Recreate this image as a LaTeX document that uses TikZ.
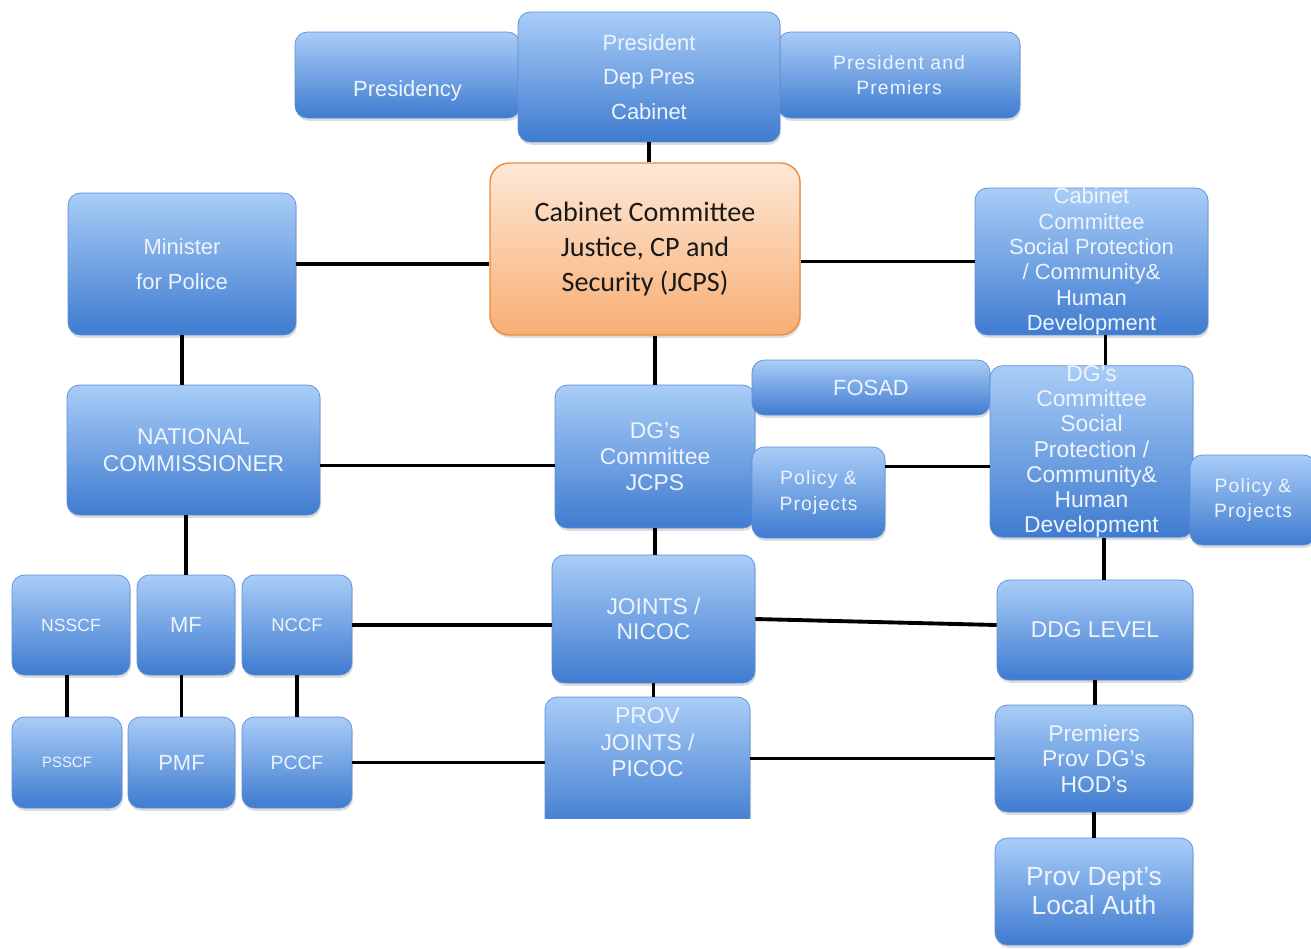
\documentclass[tikz,border=0pt]{standalone}
\usepackage{fontspec}
\newfontfamily\orgfont{Liberation Sans}
\newfontfamily\calfont{Carlito}
\usepackage{xcolor}
\usepackage{tikz}
\usetikzlibrary{positioning, shadows}

\definecolor{orgtop}{HTML}{A9CDF7}
\definecolor{orgbot}{HTML}{3F7BD0}
\definecolor{orgedge}{HTML}{5B8FD8}
\definecolor{orgtext}{HTML}{EEF4FD}
\definecolor{jcpstop}{HTML}{FDE8D6}
\definecolor{jcpsbot}{HTML}{F8AE74}
\definecolor{jcpsedge}{HTML}{EE8A3A}

\tikzset{
  orgbox/.style={rectangle, rounded corners=7pt, draw=orgedge, line width=0.4pt,
    top color=orgtop, bottom color=orgbot, text=orgtext, align=center, inner sep=0pt,
    drop shadow={shadow xshift=0.6pt, shadow yshift=-1.6pt, opacity=0.28}},
  jcpsbox/.style={rectangle, rounded corners=11pt, draw=jcpsedge, line width=0.8pt,
    top color=jcpstop, bottom color=jcpsbot, text=black!90, align=center, inner sep=0pt,
    font=\calfont\fontsize{16}{20}\selectfont,
    drop shadow={shadow xshift=0.6pt, shadow yshift=-1.6pt, opacity=0.28}},
  fs/.style 2 args={font=\orgfont\fontsize{#1}{#2}\selectfont},
  spaced/.style 2 args={font=\orgfont\addfontfeature{LetterSpace=6}\fontsize{#1}{#2}\selectfont},
  wire/.style={line width=2.2pt, black},
}

\begin{document}
\begin{tikzpicture}[x=0.02cm, y=-0.02cm]
  \useasboundingbox (0,0) rectangle (1311,948);

  % top row
  \node[orgbox, fs={12.5}{15}, minimum width=4.5cm, minimum height=1.72cm] (presidency) at (407.5,75) {\raisebox{-0.32cm}[1ex][0pt]{Presidency}};
  \node[orgbox, spaced={11}{14}, minimum width=4.84cm, minimum height=1.72cm] (presprem) at (899,75) {President and\\Premiers};
  \node[orgbox, fs={12.5}{19.8}, minimum width=5.24cm, minimum height=2.6cm] (president) at (649,77) {President\\Dep Pres\\Cabinet};

  % cabinet level
  \node[jcpsbox, minimum width=6.2cm, minimum height=3.44cm] (jcps) at (645,249) {Cabinet Committee\\Justice, CP and\\Security (JCPS)};
  \node[orgbox, fs={12.5}{20}, minimum width=4.56cm, minimum height=2.84cm] (minister) at (182,264) {Minister\\for Police};
  \node[orgbox, fs={12.5}{14.4}, minimum width=4.66cm, minimum height=2.94cm] (ccsocial) at (1091.5,261.5) {Cabinet\\Committee\\Social Protection\\/ Community\&\\Human\\Development};

  % DG level
  \node[orgbox, fs={13}{15.3}, minimum width=5.06cm, minimum height=2.6cm] (natcomm) at (193.5,450) {NATIONAL\\COMMISSIONER};
  \node[orgbox, fs={13}{14.7}, minimum width=4.0cm, minimum height=2.86cm] (dgjcps) at (655,456.5) {DG’s\\Committee\\JCPS};
  \node[orgbox, fs={12.5}{15}, minimum width=4.76cm, minimum height=1.1cm] (fosad) at (871,387.5) {FOSAD};
  \node[orgbox, spaced={11}{14.7}, minimum width=2.66cm, minimum height=1.82cm] (policyL) at (818.5,492.5) {Policy \&\\Projects};
  \node[orgbox, fs={13}{14.3}, minimum width=4.06cm, minimum height=3.34cm] (dgsocial) at (1091.5,451.5) {DG’s\\Committee\\Social\\Protection /\\Community\&\\Human\\Development};
  \node[orgbox, spaced={11}{14.7}, minimum width=2.52cm, minimum height=1.8cm] (policyR) at (1253,500) {Policy \&\\Projects};

  % operational level
  \node[orgbox, fs={13}{15}, minimum width=3.92cm, minimum height=2.0cm] (ddg) at (1095,630) {DDG LEVEL};
  \node[orgbox, fs={13}{14.5}, minimum width=3.96cm, minimum height=2.14cm] (premiers) at (1094,758.5) {Premiers\\Prov DG’s\\HOD’s};
  \node[orgbox, fs={15}{16.5}, minimum width=3.96cm, minimum height=2.14cm] (provdept) at (1094,891.5) {Prov Dept’s\\Local Auth};
  \node[orgbox, fs={13}{14.2}, minimum width=4.06cm, minimum height=2.56cm] (joints) at (653.5,619) {JOINTS /\\NICOC};
  \begin{scope}
    \clip (500,690) rectangle (800,818);
    \node[orgbox, fs={13}{15}, minimum width=4.1cm, minimum height=2.66cm] (prov) at (647.5,763.5)
      {\raisebox{0.265cm}[0pt][0pt]{\begin{tabular}{@{}c@{}}PROV\\JOINTS /\\PICOC\end{tabular}}};
  \end{scope}

  % forums
  \node[orgbox, fs={10}{12}, minimum width=2.36cm, minimum height=2.0cm] (nsscf) at (71,625) {NSSCF};
  \node[orgbox, fs={12.5}{14}, minimum width=1.96cm, minimum height=2.0cm] (mf) at (186,625) {MF};
  \node[orgbox, fs={10.5}{12}, minimum width=2.2cm, minimum height=2.0cm] (nccf) at (297,625) {NCCF};
  \node[orgbox, fs={8.5}{10}, minimum width=2.2cm, minimum height=1.82cm] (psscf) at (67,762.5) {PSSCF};
  \node[orgbox, fs={12.5}{14}, minimum width=2.14cm, minimum height=1.82cm] (pmf) at (181.5,762.5) {PMF};
  \node[orgbox, fs={11}{13}, minimum width=2.2cm, minimum height=1.82cm] (pccf) at (297,762.5) {PCCF};

  % links
  \draw[wire] (president.south) -- (president.south |- jcps.north);
  \draw[wire] (minister.east) -- (minister.east -| jcps.west);
  \draw[wire] (ccsocial.west) -- (ccsocial.west -| jcps.east);
  \draw[wire] (minister.south) -- (minister.south |- natcomm.north);
  \draw[wire] (dgjcps.north) -- (dgjcps.north |- jcps.south);
  \draw[wire] ([xshift=0.28cm]ccsocial.south) -- ([xshift=0.28cm]ccsocial.south |- dgsocial.north);
  \draw[wire] ([yshift=-0.18cm]dgjcps.west) -- ([yshift=-0.18cm]dgjcps.west -| natcomm.east);
  \draw[wire] ([yshift=0.52cm]policyL.east) -- ([yshift=0.52cm]policyL.east -| dgsocial.west);
  \draw[wire] ([xshift=0.18cm]ddg.north) -- ([xshift=0.18cm]ddg.north |- dgsocial.south);
  \draw[wire] (ddg.south) -- (ddg.south |- premiers.north);
  \draw[wire] (premiers.south) -- (premiers.south |- provdept.north);
  \draw[wire] (dgjcps.south) -- (dgjcps.south |- joints.north);
  \draw[wire] (joints.south) -- (joints.south |- prov.north);
  \draw[wire] (nccf.east) -- (nccf.east -| joints.west);
  \draw[wire] (joints.east) -- ([yshift=0.1cm]ddg.west);
  \draw[wire] (pccf.east) -- (pccf.east -| prov.west);
  \draw[wire] (premiers.west) -- (premiers.west -| prov.east);
  \draw[wire] (mf.north) -- (mf.north |- natcomm.south);
  \draw[wire] (psscf.north) -- (psscf.north |- nsscf.south);
  \draw[wire] (pmf.north) -- (pmf.north |- mf.south);
  \draw[wire] (nccf.south) -- (nccf.south |- pccf.north);
\end{tikzpicture}
\end{document}
